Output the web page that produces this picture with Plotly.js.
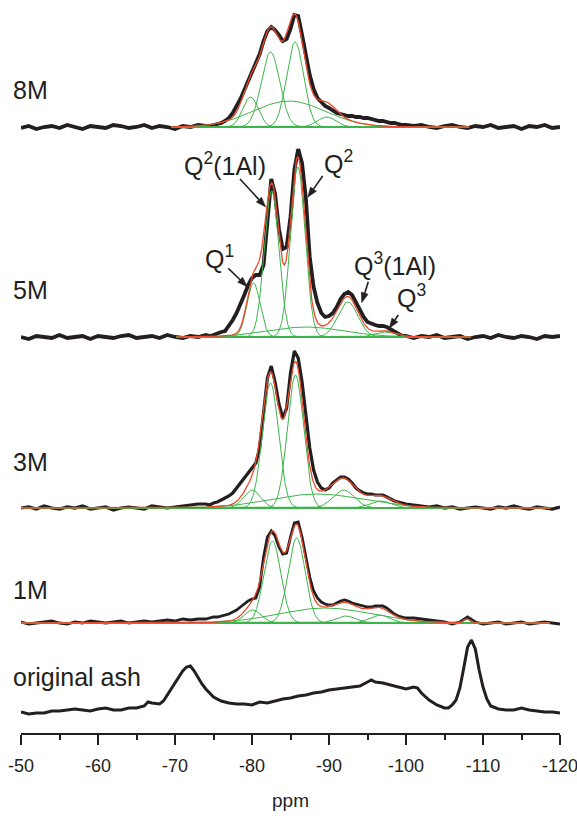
<!DOCTYPE html>
<html><head><meta charset="utf-8">
<script src="https://cdn.plot.ly/plotly-3.0.1.min.js"></script>
<style>html,body{margin:0;padding:0;background:#fff}</style>
</head><body><div id="chart" style="width:577px;height:816px"></div>
<script>
// ---------- DATA ----------
// chemical shift grid (ppm) for the four activated samples
const ppmGrid = [-50,-51,-52,-53,-54,-55,-56,-57,-58,-59,-60,-61,-62,-63,-64,-65,-66,-67,-68,-69,-70,-71,-72,-73,-74,
 -74.5,-75,-75.5,-76,-76.5,-77,-77.5,-78,-78.5,-79,-79.5,-80,-80.5,-81,-81.5,-82,-82.5,-83,-83.5,-84,-84.5,-85,-85.5,-86,-86.5,-87,-87.5,-88,-88.5,-89,-89.5,-90,-90.5,-91,-91.5,-92,-92.5,-93,-93.5,-94,-94.5,-95,-95.5,-96,-96.5,-97,-97.5,-98,-98.5,-99,-99.5,-100,
 -101,-102,-103,-104,-105,-106,-107,-108,-109,-110,-111,-112,-113,-114,-115,-116,-117,-118,-119,-120];

// measured intensities (a.u.)
const signal8M = [-1,1,-2,0,1,-1,2,0,-2,1,0,-1,2,1,-1,0,2,-1,1,0,-2,1,0,2,1,
 1,2,3,4,6,9,14,21,28,37,46,53,62,73,86,96,100,97,92,86,88,98,112,111,92,72,52,38,29,25,21,19,16,14,13,12,11,11,10,10,9,9,8,7,6,6,5,4,4,3,2,2,
 1,2,0,-1,1,2,0,-1,1,0,2,-1,0,1,-2,1,0,2,-1,0];
const signal5M = [0,-2,1,0,-1,2,-1,0,1,-2,1,0,-1,1,2,-1,0,1,-1,2,0,-1,1,0,2,
 1,2,4,5,6,11,17,24,32,42,52,59,62,62,72,112,158,143,108,88,90,120,167,188,174,138,80,50,34,24,20,21,24,30,38,43,45,42,35,27,20,15,13,12,11,11,10,8,5,3,1,1,
 -1,1,0,2,-1,0,1,-2,0,1,-1,2,0,-1,1,0,-2,1,0,1];
const signal3M = [0,1,-1,2,0,-1,1,0,2,-1,0,1,-2,0,1,0,-1,2,1,0,1,2,3,4,4,
 3,5,6,8,10,12,15,20,26,31,36,40,45,60,92,130,142,126,104,90,100,135,157,150,126,92,60,38,26,20,18,20,25,28,31,31,29,25,20,17,15,14,14,13,13,13,11,9,7,6,5,4,
 3,2,1,2,0,1,-1,0,1,0,-1,1,0,2,0,-1,1,0,-1,1];
const signal1M = [1,-1,0,1,2,0,-1,1,0,2,1,0,1,2,0,1,2,1,2,3,2,4,3,4,4,
 5,6,6,7,8,9,11,13,16,19,22,24,25,36,66,86,92,87,76,69,70,86,100,101,86,66,46,32,25,21,19,18,18,20,22,23,22,20,19,18,17,16,16,17,17,17,15,12,9,7,6,5,
 5,4,3,2,1,-1,1,6,1,-1,0,1,-1,0,1,-1,0,1,0,-1];

// original ash
const ppmAsh = [-50,-51,-52,-53,-54,-55,-56,-57,-58,-59,-60,-61,-62,-63,-64,-65,-66,-66.5,-67,-68,-68.5,-69,-69.5,-70,-70.5,-71,-71.5,-72,-72.5,-73,-73.5,-74,-74.5,-75,-76,-77,-78,-79,-80,-81,-82,-83,-84,-85,-86,-87,-88,-89,-90,-91,-92,-93,-94,-95,-95.5,-96,-97,-98,-99,-100,-101,-101.5,-102,-103,-104,-105,-105.5,-106,-106.5,-107,-107.5,-108,-108.5,-109,-109.5,-110,-110.5,-111,-112,-113,-114,-115,-116,-117,-118,-119,-120];
const signalAsh = [1,-1,0,0,2,2,3,4,3,2,4,5,3,3,5,5,7,11,10,9,12,18,24,30,37,42,46,47,42,35,29,24,20,16,12,10,9,9,8,11,10,12,14,15,17,18,20,21,23,24,25,26,27,31,33,31,30,28,26,24,26,25,20,13,8,5,5,8,13,25,45,66,73,64,43,26,14,7,4,3,3,5,3,2,1,1,0];

// fitted components: Q1, Q2(1Al), Q2, broad, Q3(1Al), Q3 (+ minor)
const fit8M_center = [-79.8, -82.4, -85.6, -84.8, -89.7];
const fit8M_height = [30, 75, 85, 26, 10];
const fit8M_width  = [1.0, 1.2, 1.1, 4.7, 1.2];

const fit5M_center = [-80.2, -82.55, -85.95, -87.0, -92.45, -97.3];
const fit5M_height = [54, 146, 170, 10, 35, 5];
const fit5M_width  = [0.85, 0.95, 0.95, 5.0, 1.3, 1.3];

const fit3M_center = [-80.0, -82.4, -85.65, -88.5, -91.9, -96.7];
const fit3M_height = [18, 125, 133, 14, 18, 7];
const fit3M_width  = [1.1, 1.05, 1.05, 6.0, 1.4, 1.4];

const fit1M_center = [-80.1, -82.65, -85.8, -89.5, -92.2, -96.6, -107.9];
const fit1M_height = [13, 82, 85, 15, 7, 8, 4];
const fit1M_width  = [1.1, 1.1, 1.1, 6.0, 1.3, 1.3, 0.4];

const sampleLabels = ['8M', '5M', '3M', '1M', 'original ash'];
const peakLabels = ['Q<sup>2</sup>(1Al)', 'Q<sup>2</sup>', 'Q<sup>1</sup>', 'Q<sup>3</sup>(1Al)', 'Q<sup>3</sup>'];
const tickValues = [-50, -60, -70, -80, -90, -100, -110, -120];
const tickLabels = ['-50', '-60', '-70', '-80', '-90', '-100', '-110', '-120'];
const axisTitle = 'ppm';

// ---------- LAYOUT / STYLE ----------
const stackOffset = {m8: 606, m5: 396, m3: 225, m1: 110, ash: 20};
const fitRange = {m8: [-69.5, -108.2], m5: [-70.2, -108.4], m3: [-50, -118.8], m1: [-50, -118.7]};
const INK = '#231f20', RED = '#e9492b', GREEN = '#3cb54a';
const FONT = 'Liberation Sans, Arial, Helvetica, sans-serif';
const PX_PER_PPM = 7.7, PX_PER_UNIT = 1;

const traces = [];
function addSpectrum(x, y, off, w) {
  traces.push({x: x, y: y.map(v => v + off), mode: 'lines', line: {color: INK, width: w}, hoverinfo: 'skip'});
}
function addFit(centers, heights, widths, off, range) {
  const xs = [];
  for (let p = range[0]; p >= range[1] - 1e-9; p -= 0.05) xs.push(+p.toFixed(2));
  const total = xs.map(() => 0);
  traces.push({x: [range[0], range[1]], y: [off, off], mode: 'lines', line: {color: GREEN, width: 2.2}, hoverinfo: 'skip'});
  centers.forEach((c, i) => {
    const ys = xs.map((p, k) => {
      const g = heights[i] * Math.exp(-((p - c) * (p - c)) / (2 * widths[i] * widths[i]));
      total[k] += g;
      return g + off;
    });
    traces.push({x: xs, y: ys, mode: 'lines', line: {color: GREEN, width: 1}, hoverinfo: 'skip'});
  });
  traces.push({x: xs, y: total.map(v => v + off), mode: 'lines', line: {color: RED, width: 1.3}, hoverinfo: 'skip'});
}

addSpectrum(ppmGrid, signal8M, stackOffset.m8, 3.8);
addFit(fit8M_center, fit8M_height, fit8M_width, stackOffset.m8, fitRange.m8);
addSpectrum(ppmGrid, signal5M, stackOffset.m5, 3.8);
addFit(fit5M_center, fit5M_height, fit5M_width, stackOffset.m5, fitRange.m5);
addSpectrum(ppmGrid, signal3M, stackOffset.m3, 3.2);
addFit(fit3M_center, fit3M_height, fit3M_width, stackOffset.m3, fitRange.m3);
addSpectrum(ppmGrid, signal1M, stackOffset.m1, 2.8);
addFit(fit1M_center, fit1M_height, fit1M_width, stackOffset.m1, fitRange.m1);
addSpectrum(ppmAsh, signalAsh, stackOffset.ash, 3.0);

// sample labels (left, outside plot)
const labelY = [643, 443, 271, 143, 56];
const annotations = sampleLabels.map((t, i) => ({
  xref: 'paper', yref: 'y', x: -0.0185, y: labelY[i], xanchor: 'left', yanchor: 'middle',
  text: t, showarrow: false, font: {family: FONT, size: 25, color: INK}
}));

// peak assignment labels
const peakLabelPos = [[-76.43, 569], [-91.17, 571], [-75.78, 476], [-98.57, 469], [-100.71, 437]];
peakLabels.forEach((t, i) => annotations.push({
  xref: 'x', yref: 'y', x: peakLabelPos[i][0], y: peakLabelPos[i][1], xanchor: 'center', yanchor: 'middle',
  text: t, showarrow: false, font: {family: FONT, size: 25, color: INK}
}));

// arrows (tail -> head), drawn as shapes
const arrowPos = [
  [[-78.44, 554], [-81.78, 526]],
  [[-89.18, 557], [-87.23, 535.7]],
  [[-76.92, 464.7], [-79.39, 446.3]],
  [[-95.10, 451.3], [-94.25, 430.3]],
  [[-99.0, 418], [-97.83, 404.7]]
];
const shapes = [];
arrowPos.forEach(([t, h]) => {
  const dxp = -(h[0] - t[0]) * PX_PER_PPM, dyp = (h[1] - t[1]) * PX_PER_UNIT;
  const L = Math.hypot(dxp, dyp), ux = dxp / L, uy = dyp / L;
  const headLen = 10, headHalf = 3.6;
  const bx = -ux * headLen, by = -uy * headLen;
  const toData = (px, py) => [h[0] - px / PX_PER_PPM, h[1] + py / PX_PER_UNIT];
  const base = toData(bx, by);
  const l = toData(bx - uy * headHalf, by + ux * headHalf);
  const r = toData(bx + uy * headHalf, by - ux * headHalf);
  shapes.push({type: 'line', xref: 'x', yref: 'y', x0: t[0], y0: t[1], x1: base[0], y1: base[1], line: {color: INK, width: 1.6}});
  shapes.push({type: 'path', xref: 'x', yref: 'y', path: `M ${h[0]} ${h[1]} L ${l[0]} ${l[1]} L ${r[0]} ${r[1]} Z`, fillcolor: INK, line: {color: INK, width: 0.5}});
});

const layout = {
  width: 577, height: 816,
  margin: {l: 21, r: 17, t: 5, b: 83},
  paper_bgcolor: '#fff', plot_bgcolor: '#fff',
  showlegend: false, hovermode: false,
  xaxis: {
    range: [-50, -120], showgrid: false, zeroline: false,
    showline: true, linecolor: INK, linewidth: 2,
    ticks: 'outside', ticklen: 10, tickwidth: 2, tickcolor: INK,
    tickvals: tickValues, ticktext: tickLabels,
    tickfont: {family: FONT, size: 18, color: INK},
    ticklabelstandoff: 5, ticklabeloverflow: 'allow',
    minor: {ticks: 'outside', ticklen: 5, tickwidth: 2, tickcolor: INK, tickvals: [-55,-65,-75,-85,-95,-105,-115], showgrid: false},
    title: {text: axisTitle, font: {family: FONT, size: 19, color: INK}, standoff: 19},
    fixedrange: true
  },
  yaxis: {visible: false, range: [0, 728], fixedrange: true},
  annotations: annotations,
  shapes: shapes
};
Plotly.newPlot('chart', traces, layout, {displayModeBar: false, staticPlot: true});
</script></body></html>
